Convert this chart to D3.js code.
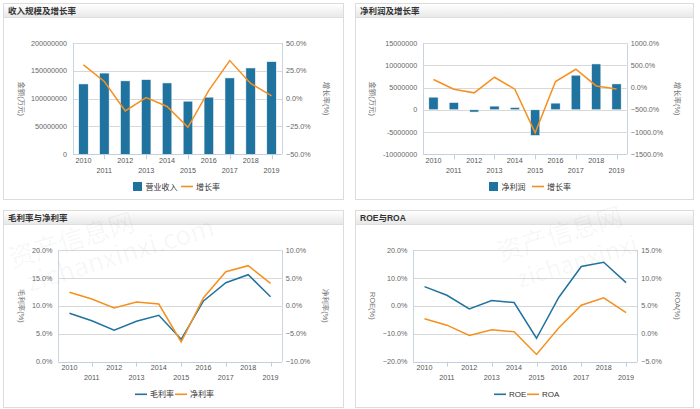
<!DOCTYPE html>
<html><head><meta charset="utf-8">
<script src="https://cdn.jsdelivr.net/npm/d3@7"></script>
<style>
html,body{margin:0;padding:0;background:#fff;}
svg{display:block;font-family:"Liberation Sans","Noto Sans CJK SC",sans-serif;}
</style></head>
<body><svg id="c" width="700" height="409"></svg>
<script>
const years = ["2010","2011","2012","2013","2014","2015","2016","2017","2018","2019"];
// Panel 1
const revenue = [126500000,146000000,132000000,134400000,128300000,95500000,102700000,137300000,155200000,166700000];
const revenueGrowth = [30.3,15.4,-11.0,1.0,-7.0,-25.8,7.5,34.2,13.6,2.5];
// Panel 2
const netProfit = [2840000,1650000,-520000,830000,530000,-5800000,1500000,7770000,10300000,5820000];
const profitGrowth = [179,-38,-120,231,-38,-1017,134,410,36,-31];
// Panel 3
const grossMargin = [8.67,7.34,5.62,7.23,8.30,4.00,10.87,14.15,15.58,11.64];
const netMargin = [2.43,1.23,-0.38,0.69,0.33,-6.47,1.46,6.12,7.19,4.03];
// Panel 4
const roe = [6.9,3.8,-1.07,1.9,1.2,-11.6,3.1,14.1,15.6,8.3];
const roa = [2.69,1.54,-0.30,0.72,0.36,-3.70,1.07,5.12,6.45,3.80];
// Tick labels
const ticks1L = [0,50000000,100000000,150000000,200000000];
const ticks1R = [-50,-25,0,25,50];
const ticks2L = [-10000000,-5000000,0,5000000,10000000,15000000];
const ticks2R = [-1500,-1000,-500,0,500,1000];
const ticks3L = [0,5,10,15,20];
const ticks3R = [-10,-5,0,5,10];
const ticks4L = [-20,-10,0,10,20];
const ticks4R = [-5,0,5,10,15];

const BLUE = "#21739f", ORANGE = "#f5901f";
const svg = d3.select("#c");
const defs = svg.append("defs");
const g = defs.append("linearGradient").attr("id","tb").attr("x1",0).attr("y1",0).attr("x2",0).attr("y2",1);
g.append("stop").attr("offset","0%").attr("stop-color","#ffffff");
g.append("stop").attr("offset","100%").attr("stop-color","#e8e8e8");

const pct = d => d3.format(".1f")(d) + "%";

function panel(cfg){
  const b = cfg.box;
  svg.append("rect").attr("x",b.x+0.5).attr("y",b.y+0.5).attr("width",b.w).attr("height",b.h)
    .attr("fill","#fff").attr("stroke","#dcdcdc");
  svg.append("rect").attr("x",b.x+1).attr("y",b.y+1).attr("width",b.w-1).attr("height",13)
    .attr("fill","url(#tb)");
  svg.append("line").attr("x1",b.x+1).attr("x2",b.x+b.w).attr("y1",b.y+14.5).attr("y2",b.y+14.5).attr("stroke","#dedede");
  svg.append("text").attr("x",b.x+5).attr("y",b.y+10.8).text(cfg.title)
    .attr("font-size","8.5px").attr("font-weight","bold").attr("fill","#333");

  const p = cfg.plot;
  const x = d3.scaleBand().domain(years).range([p.l,p.r]);
  const yL = d3.scaleLinear().domain(cfg.domL).range([p.b,p.t]);
  const yR = d3.scaleLinear().domain(cfg.domR).range([p.b,p.t]);

  svg.append("g").selectAll("line").data(cfg.ticksL).join("line")
    .attr("x1",p.l).attr("x2",p.r).attr("y1",d=>Math.round(yL(d))+0.5).attr("y2",d=>Math.round(yL(d))+0.5)
    .attr("stroke","#d8d8d8");
  svg.append("line").attr("x1",Math.round(p.l)+0.5).attr("x2",Math.round(p.l)+0.5).attr("y1",p.t).attr("y2",p.b).attr("stroke","#c8d4e0");
  svg.append("line").attr("x1",Math.round(p.r)+0.5).attr("x2",Math.round(p.r)+0.5).attr("y1",p.t).attr("y2",p.b).attr("stroke","#c8d4e0");

  if(cfg.bars){
    const bw = x.bandwidth()*0.46;
    svg.append("g").selectAll("rect").data(cfg.bars).join("rect")
      .attr("x",(d,i)=>x(years[i])+x.bandwidth()/2-bw/2)
      .attr("width",bw)
      .attr("y",d=>Math.min(yL(d),yL(0)))
      .attr("height",d=>Math.abs(yL(d)-yL(0)))
      .attr("fill",BLUE).attr("stroke","#fff").attr("stroke-width",0.6);
  }
  svg.append("line").attr("x1",p.l).attr("x2",p.r).attr("y1",Math.round(p.b)+0.5).attr("y2",Math.round(p.b)+0.5).attr("stroke","#c0d0e0");
  svg.append("g").selectAll("line").data(years.filter((d,i)=>i%2===1)).join("line")
    .attr("x1",d=>Math.round(x(d)+x.bandwidth()/2)+0.5).attr("x2",d=>Math.round(x(d)+x.bandwidth()/2)+0.5)
    .attr("y1",p.b).attr("y2",p.b+5).attr("stroke","#c0d0e0");
  svg.append("g").selectAll("text").data(years).join("text")
    .attr("x",d=>x(d)+x.bandwidth()/2)
    .attr("y",(d,i)=>p.b + (i%2===0 ? 8.6 : 18.6))
    .attr("text-anchor","middle").attr("font-size","7.2px").attr("fill","#555").text(d=>d);

  svg.append("g").selectAll("text").data(cfg.ticksL).join("text")
    .attr("x",p.l-6).attr("y",d=>yL(d)+2.6).attr("text-anchor","end")
    .attr("font-size","7.2px").attr("fill","#666").text(cfg.fmtL);
  svg.append("g").selectAll("text").data(cfg.ticksR).join("text")
    .attr("x",p.r+4).attr("y",d=>yR(d)+2.6).attr("text-anchor","start")
    .attr("font-size","7.2px").attr("fill","#666").text(pct);

  const my = (p.t+p.b)/2;
  svg.append("text").attr("transform",`translate(${cfg.titleLx},${my}) rotate(90)`)
    .attr("text-anchor","middle").attr("dy","0.35em").attr("font-size","7.4px").attr("fill","#777").text(cfg.axisL);
  svg.append("text").attr("transform",`translate(${cfg.titleRx},${my}) rotate(90)`)
    .attr("text-anchor","middle").attr("dy","0.35em").attr("font-size","7.4px").attr("fill","#777").text(cfg.axisR);

  cfg.lines.forEach(ln=>{
    const sc = ln.axis==="L" ? yL : yR;
    const gen = d3.line().x((d,i)=>x(years[i])+x.bandwidth()/2).y(d=>sc(d));
    svg.append("path").attr("d",gen(ln.data)).attr("fill","none").attr("stroke",ln.color).attr("stroke-width",1.5);
  });

  cfg.legend.forEach(it=>{
    if(it.type==="bar"){
      svg.append("rect").attr("x",it.x).attr("y",cfg.legendY-4.5).attr("width",9).attr("height",9).attr("fill",it.color);
      svg.append("text").attr("x",it.x+12.5).attr("y",cfg.legendY+3).attr("font-size","8px").attr("fill","#333").text(it.label);
    } else {
      svg.append("line").attr("x1",it.x).attr("x2",it.x+12).attr("y1",cfg.legendY).attr("y2",cfg.legendY).attr("stroke",it.color).attr("stroke-width",1.6);
      svg.append("text").attr("x",it.x+15).attr("y",cfg.legendY+3).attr("font-size","8px").attr("fill","#333").text(it.label);
    }
  });
}

panel({title:"收入规模及增长率", box:{x:3,y:3,w:340,h:196},
  plot:{l:73,r:282,t:43,b:154.3}, domL:[0,200000000], domR:[-50,50],
  ticksL:ticks1L, ticksR:ticks1R, fmtL:d=>String(d),
  axisL:"金额(万元)", axisR:"增长率(%)", titleLx:22, titleRx:327,
  bars:revenue, lines:[{data:revenueGrowth,axis:"R",color:ORANGE}],
  legendY:186.5, legend:[{type:"bar",x:133,color:BLUE,label:"营业收入"},{type:"line",x:181,color:ORANGE,label:"增长率"}]});

panel({title:"净利润及增长率", box:{x:355,y:3,w:338,h:196},
  plot:{l:423.3,r:626.7,t:43,b:154.3}, domL:[-10000000,15000000], domR:[-1500,1000],
  ticksL:ticks2L, ticksR:ticks2R, fmtL:d=>String(d),
  axisL:"金额(万元)", axisR:"增长率(%)", titleLx:373, titleRx:678,
  bars:netProfit, lines:[{data:profitGrowth,axis:"R",color:ORANGE}],
  legendY:186.5, legend:[{type:"bar",x:489,color:BLUE,label:"净利润"},{type:"line",x:532,color:ORANGE,label:"增长率"}]});

panel({title:"毛利率与净利率", box:{x:3,y:210,w:340,h:197},
  plot:{l:58.3,r:281.7,t:250,b:361.7}, domL:[0,20], domR:[-10,10],
  ticksL:ticks3L, ticksR:ticks3R, fmtL:pct,
  axisL:"毛利率(%)", axisR:"净利率(%)", titleLx:21.5, titleRx:326,
  bars:null, lines:[{data:grossMargin,axis:"L",color:BLUE},{data:netMargin,axis:"R",color:ORANGE}],
  legendY:394.3, legend:[{type:"line",x:135,color:BLUE,label:"毛利率"},{type:"line",x:175,color:ORANGE,label:"净利率"}]});

panel({title:"ROE与ROA", box:{x:355,y:210,w:338,h:197},
  plot:{l:413.3,r:637.3,t:250,b:361.7}, domL:[-20,20], domR:[-5,15],
  ticksL:ticks4L, ticksR:ticks4R, fmtL:pct,
  axisL:"ROE(%)", axisR:"ROA(%)", titleLx:373, titleRx:678,
  bars:null, lines:[{data:roe,axis:"L",color:BLUE},{data:roa,axis:"R",color:ORANGE}],
  legendY:394.3, legend:[{type:"line",x:494,color:BLUE,label:"ROE"},{type:"line",x:527,color:ORANGE,label:"ROA"}]});

// faint watermarks (kept inside the picture)
const wm = svg.append("g").attr("fill","#000").attr("fill-opacity",0.045).attr("font-family","Noto Sans CJK SC, sans-serif");
wm.append("text").attr("transform","translate(12,268) rotate(-17)").attr("font-size","26px").text("资产信息网");
wm.append("text").attr("transform","translate(30,292) rotate(-17)").attr("font-size","26px").text("zichanxinxi.com");
wm.append("text").attr("transform","translate(500,262) rotate(-17)").attr("font-size","26px").text("资产信息网");
wm.append("text").attr("transform","translate(520,288) rotate(-17)").attr("font-size","24px").text("zichanxinxi");
</script></body></html>
